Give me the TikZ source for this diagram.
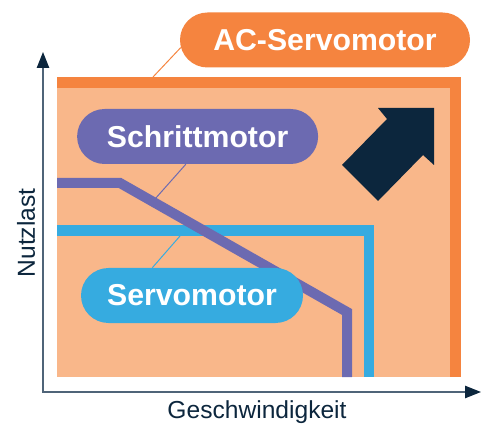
\documentclass[tikz,border=0pt]{standalone}
\usepackage{fontspec}
\setmainfont{Liberation Sans}
\usepackage{xcolor}
\usetikzlibrary{shapes.misc,arrows.meta}

\definecolor{acorange}{HTML}{F5843F}
\definecolor{areafill}{HTML}{F9B78A}
\definecolor{steppurple}{HTML}{6C6AB1}
\definecolor{servoblue}{HTML}{36ABE0}
\definecolor{navy}{HTML}{0C263D}
\definecolor{axisgray}{HTML}{4F6478}

\begin{document}
\begin{tikzpicture}[
        pill/.style={rounded rectangle, fill=#1, text=white, inner sep=0pt, minimum height=1.375cm,
            font=\bfseries\fontsize{21.5}{24}\selectfont},
        limit/.style={draw=#1, line width=0.27cm, miter limit=10},
        leader/.style={draw=#1, line width=0.7pt},
        axislabel/.style={text=navy, font=\fontsize{17.5}{20}\selectfont}
    ]
        \useasboundingbox (0,0) rectangle (12.075,10.625);

        % Operating area
        \fill[areafill] (1.425,1.2) rectangle (11.525,8.7);
        \fill[acorange] (1.425,8.425) rectangle (11.525,8.7);
        \fill[acorange] (11.25,1.2) rectangle (11.525,8.7);

        % Limit curves
        \draw[limit=servoblue] (1.425,4.86) -- (9.225,4.86) -- (9.225,1.2);
        \draw[limit=steppurple, line width=0.25cm] (1.425,6.05) -- (3.0,6.05) -- (8.675,2.825) -- (8.675,1.2);

        % Big arrow
        \fill[navy] (10.85,7.925) -- (9.45,7.925) -- (9.675,7.65) -- (8.55,6.5)
            -- (9.45,5.6) -- (10.575,6.75) -- (10.85,6.5) -- cycle;

        % Axes
        \coordinate (origin) at (1.075,0.825);
        \coordinate (ytip) at (1.075,9.325);
        \coordinate (xtip) at (12.025,0.825);
        \draw[axisgray, line width=1pt,
            {Triangle[length=0.4cm,width=0.31cm,color=navy]}-{Triangle[length=0.4cm,width=0.31cm,color=navy]}]
            (ytip) |- (xtip);
        \node[axislabel, rotate=90] (ylabel) at (0.65,4.8) {Nutzlast};
        \node[axislabel] (xlabel) at (6.425,0.325) {Geschwindigkeit};

        % Labels
        \node[pill=acorange, minimum width=7.25cm] (ac) at (8.125,9.625) {AC-Servomotor};
        \node[pill=steppurple, minimum width=6.025cm] (step) at (4.94,7.2125) {Schrittmotor};
        \node[pill=servoblue, minimum width=5.55cm] (servo) at (4.8,3.2375) {Servomotor};

        % Leaders
        \coordinate (acpin) at (3.825,8.7);
        \coordinate (steppin) at (3.875,5.65);
        \coordinate (servopin) at (4.5,4.725);
        \draw[leader=acorange] (acpin) -- (ac.183);
        \draw[leader=steppurple] (steppin) -- (step.247);
        \draw[leader=servoblue] (servopin) -- (servo.145);
    \end{tikzpicture}
\end{document}
